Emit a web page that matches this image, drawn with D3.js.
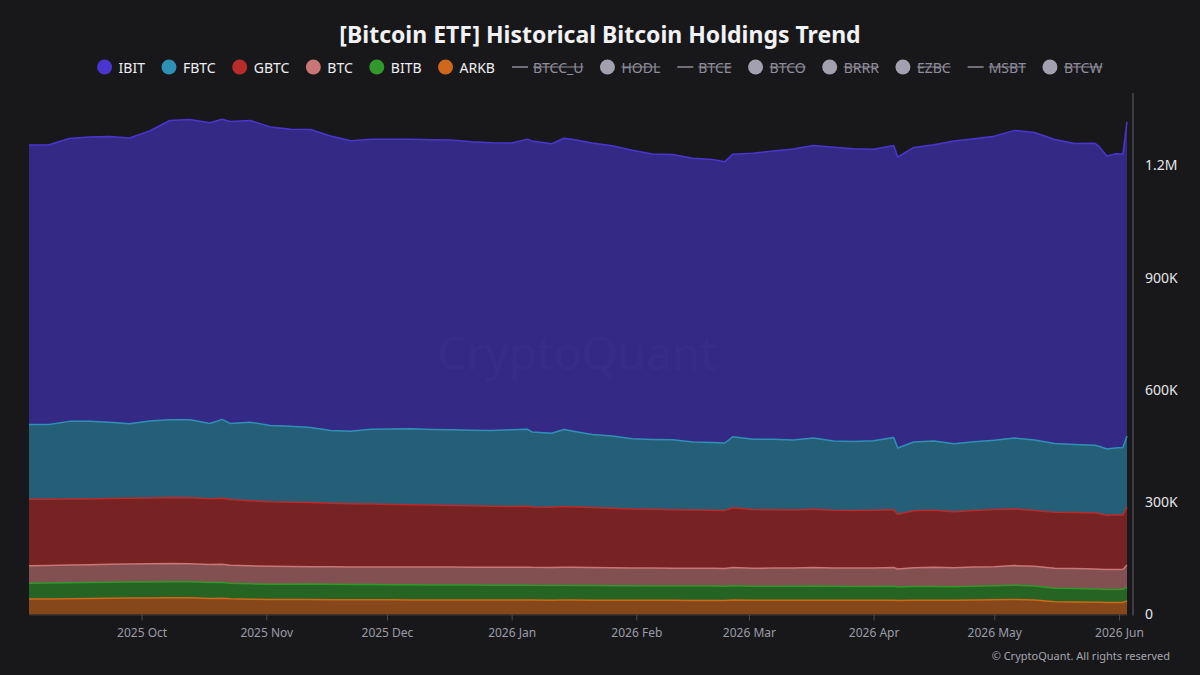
<!DOCTYPE html>
<html>
<head>
<meta charset="utf-8">
<script src="https://cdn.jsdelivr.net/npm/d3@7"></script>
<style>
  html, body { margin: 0; padding: 0; background: #18181b; }
  svg { display: block; font-family: "Noto Sans", "Open Sans", sans-serif; }
</style>
</head>
<body>
<script>
const width = 1200;
const height = 675;

// daily holdings (BTC)
const dates = [
  "2025-09-03", "2025-09-08", "2025-09-13", "2025-09-18", "2025-09-23", "2025-09-28",
  "2025-10-03", "2025-10-08", "2025-10-13", "2025-10-18", "2025-10-21", "2025-10-23",
  "2025-10-28", "2025-11-02", "2025-11-07", "2025-11-12", "2025-11-17", "2025-11-22",
  "2025-11-27", "2025-12-02", "2025-12-07", "2025-12-12", "2025-12-17", "2025-12-22",
  "2025-12-27", "2026-01-01", "2026-01-05", "2026-01-06", "2026-01-11", "2026-01-14",
  "2026-01-16", "2026-01-21", "2026-01-26", "2026-01-31", "2026-02-05", "2026-02-10",
  "2026-02-15", "2026-02-20", "2026-02-23", "2026-02-25", "2026-03-02", "2026-03-07",
  "2026-03-12", "2026-03-17", "2026-03-22", "2026-03-27", "2026-04-01", "2026-04-06",
  "2026-04-07", "2026-04-11", "2026-04-16", "2026-04-21", "2026-04-26", "2026-05-01",
  "2026-05-06", "2026-05-11", "2026-05-16", "2026-05-21", "2026-05-26", "2026-05-27",
  "2026-05-29", "2026-05-31", "2026-06-02", "2026-06-03"
];

const ibit = [
  746100, 747500, 755700, 759000, 763200, 763500, 774700, 799600, 802000, 803300, 801700, 806500,
  805700, 797900, 793900, 796100, 786700, 775800, 774700, 774200, 773400, 773900, 773600, 770400,
  768600, 766200, 775000, 777400, 773100, 777900, 779500, 778700, 775500, 770700, 762400, 762400,
  757900, 755700, 751500, 754900, 764000, 770400, 777100, 781400, 784300, 782200, 779000, 780000,
  777400, 786700, 791500, 808600, 809700, 812400, 821700, 821200, 812100, 804100, 806200, 801700,
  782700, 785900, 784100, 838800
];

const fbtc = [
  200100, 199600, 207300, 208100, 203800, 199000, 205400, 207800, 208400, 201200, 210500, 203600,
  210000, 203600, 202800, 200600, 194200, 193900, 199800, 201400, 202800, 201700, 202200, 202000,
  202500, 204900, 205700, 200400, 198000, 205700, 202500, 195300, 193100, 187500, 186700, 186500,
  181900, 180900, 180100, 189700, 187800, 188300, 187000, 190200, 185100, 183800, 185700, 193400,
  177100, 183800, 184900, 181400, 183500, 185100, 189700, 188600, 183800, 181700, 181100, 179500,
  177100, 179000, 180300, 190500
];

const gbtc = [
  177400, 176600, 176300, 175200, 175500, 175500, 176000, 176300, 176300, 175800, 176600, 175200,
  173600, 172300, 171500, 171200, 169900, 168800, 168000, 167200, 166200, 165900, 164800, 164000,
  163000, 162400, 162700, 161400, 160800, 162200, 161600, 160300, 158900, 157600, 156800, 156300,
  155700, 155200, 154900, 159800, 156500, 155700, 155200, 156000, 154400, 154100, 154100, 154100,
  146100, 152300, 152800, 149600, 150900, 152500, 151200, 149100, 149300, 149600, 149600, 148800,
  145100, 145300, 145100, 154100
];

const btcMini = [
  47000, 47300, 47600, 47800, 48100, 48400, 48400, 48400, 48100, 48100, 48400, 48100,
  48100, 47800, 47300, 46200, 46800, 46800, 47000, 47300, 47600, 47600, 47800, 47800,
  48100, 48100, 48400, 48100, 48100, 48600, 48400, 48100, 47800, 47600, 47800, 47600,
  47600, 47600, 47600, 48600, 48100, 48400, 48600, 49200, 48900, 48900, 49200, 50000,
  48100, 50000, 50800, 51000, 51600, 50800, 52400, 52600, 53200, 53400, 53400, 53200,
  52900, 53200, 53400, 59600
];

const bitb = [
  41900, 42200, 42500, 42700, 42700, 42700, 42700, 42700, 42700, 42200, 42200, 41700,
  41100, 40600, 40900, 41700, 41100, 40900, 40600, 40300, 40300, 40100, 40100, 39800,
  39500, 39500, 39500, 39300, 39300, 39300, 39300, 39000, 38700, 38700, 38500, 38200,
  38200, 38200, 37900, 38200, 37700, 37700, 37700, 37900, 37400, 37100, 37100, 37400,
  36300, 36900, 36900, 36300, 36900, 37700, 37900, 37400, 36100, 35800, 35300, 35300,
  35000, 35000, 35000, 36600
];

const arkb = [
  41400, 41700, 42200, 42700, 43300, 43800, 44300, 44900, 44600, 43000, 43500, 41900,
  40900, 40300, 40100, 39800, 39500, 39300, 39300, 39300, 39000, 39000, 38700, 38700,
  38700, 38500, 38500, 38500, 38200, 38500, 38500, 38200, 38200, 37900, 37900, 37900,
  37700, 37700, 37700, 38500, 37900, 37900, 37900, 38200, 37900, 37900, 37900, 38200,
  37100, 37900, 38200, 37900, 38500, 39300, 40300, 38700, 34200, 33400, 32900, 32600,
  32100, 32100, 32300, 36100
];

// stack order bottom -> top
const stackKeys = ["ARKB", "BITB", "BTC", "GBTC", "FBTC", "IBIT"];
const seriesValues = { IBIT: ibit, FBTC: fbtc, GBTC: gbtc, BTC: btcMini, BITB: bitb, ARKB: arkb };

const colors = {
  IBIT: "#4a36cf",
  FBTC: "#2f90b6",
  GBTC: "#b82c2c",
  BTC: "#c97676",
  BITB: "#31982b",
  ARKB: "#d0681b"
};

// legend: shown series then hidden (struck out) ones
const legendShown = ["IBIT", "FBTC", "GBTC", "BTC", "BITB", "ARKB"];
const legendHidden = ["BTCC_U", "HODL", "BTCE", "BTCO", "BRRR", "EZBC", "MSBT", "BTCW"];
const hiddenAsLine = ["BTCC_U", "BTCE", "MSBT"];

const yTicks = [0, 300000, 600000, 900000, 1200000];

const parse = d3.timeParse("%Y-%m-%d");
const rows = dates.map((d, i) => {
  const row = { date: parse(d) };
  stackKeys.forEach((k) => { row[k] = seriesValues[k][i]; });
  return row;
});

const svg = d3.select("body").append("svg")
  .attr("width", width)
  .attr("height", height)
  .attr("viewBox", `0 0 ${width} ${height}`);

svg.append("rect")
  .attr("width", width)
  .attr("height", height)
  .attr("fill", "#18181b");

const x = d3.scaleTime()
  .domain(d3.extent(rows, (d) => d.date))
  .range([29, 1127]);

const y = d3.scaleLinear()
  .domain([0, 1400000])
  .range([614.5, 90.4]);

const stacked = d3.stack().keys(stackKeys)(rows);

const area = d3.area()
  .x((d) => x(d.data.date))
  .y0((d) => y(d[0]))
  .y1((d) => y(d[1]));

const topLine = d3.line()
  .x((d) => x(d.data.date))
  .y((d) => y(d[1]));

// watermark
svg.append("text")
  .attr("x", 577)
  .attr("y", 352)
  .attr("text-anchor", "middle")
  .attr("dominant-baseline", "central")
  .attr("font-size", 46)
  .attr("fill", "#ffffff")
  .attr("fill-opacity", 0.05)
  .text("CryptoQuant");

const layers = svg.append("g");

layers.selectAll("path.area")
  .data(stacked)
  .enter()
  .append("path")
  .attr("class", "area")
  .attr("fill", (d) => colors[d.key])
  .attr("fill-opacity", 0.6)
  .attr("d", area);

layers.selectAll("path.top")
  .data(stacked)
  .enter()
  .append("path")
  .attr("class", "top")
  .attr("fill", "none")
  .attr("stroke", (d) => colors[d.key])
  .attr("stroke-width", 1.5)
  .attr("stroke-linejoin", "round")
  .attr("d", topLine);

// x axis
const xAxis = svg.append("g")
  .attr("transform", `translate(0, ${y(0)})`)
  .call(d3.axisBottom(x)
    .ticks(d3.timeMonth.every(1))
    .tickFormat(d3.timeFormat("%Y %b"))
    .tickSizeInner(6)
    .tickSizeOuter(0)
    .tickPadding(8));
xAxis.select(".domain").attr("stroke", "#3a3a40");
xAxis.selectAll(".tick line").attr("stroke", "#4c4c54");
xAxis.selectAll(".tick text")
  .attr("fill", "#9c9ca6")
  .attr("font-size", 12)
  .attr("font-family", "\"Noto Sans\", sans-serif");

// y axis on the right
const yAxis = svg.append("g")
  .attr("transform", "translate(1133, 0)")
  .call(d3.axisRight(y)
    .tickValues(yTicks)
    .tickFormat((d) => d === 0 ? "0" : d >= 1e6 ? `${d / 1e6}M` : `${d / 1e3}K`)
    .tickSize(0)
    .tickPadding(12));
yAxis.select(".domain")
  .attr("stroke", "#4a4a52")
  .attr("stroke-width", 1.5)
  .attr("d", `M0,${y(0) + 1}V93`);
yAxis.selectAll(".tick text")
  .attr("fill", "#e6e6ea")
  .attr("font-size", 14)
  .attr("font-family", "\"Noto Sans\", sans-serif");

// title
svg.append("text")
  .attr("x", 600)
  .attr("y", 43)
  .attr("text-anchor", "middle")
  .attr("font-size", 23)
  .attr("font-weight", 700)
  .attr("fill", "#f2f2f4")
  .text("[Bitcoin ETF] Historical Bitcoin Holdings Trend");

// legend
const legendY = 67;
const itemGap = 17;
const legend = svg.append("g");
const items = legendShown.map((k) => ({ name: k, hidden: false, line: false }))
  .concat(legendHidden.map((k) => ({ name: k, hidden: true, line: hiddenAsLine.includes(k) })));

let cursor = 0;
items.forEach((it) => {
  const g = legend.append("g");
  const symW = it.line ? 16 : 14;
  if (it.line) {
    g.append("line")
      .attr("x1", cursor).attr("x2", cursor + symW)
      .attr("y1", legendY).attr("y2", legendY)
      .attr("stroke", "#8e8c9a")
      .attr("stroke-width", 1.5);
  } else {
    g.append("circle")
      .attr("cx", cursor + 7)
      .attr("cy", legendY)
      .attr("r", 7.5)
      .attr("fill", it.hidden ? "#a3a1b0" : colors[it.name]);
  }
  const tx = cursor + symW + (it.line ? 5 : 7);
  const t = g.append("text")
    .attr("x", tx)
    .attr("y", legendY)
    .attr("dominant-baseline", "central")
    .attr("font-size", 14)
    .attr("fill", it.hidden ? "#8f8d9c" : "#eeeef2")
    .text(it.name);
  const tw = t.node().getComputedTextLength();
  if (it.hidden) {
    g.append("line")
      .attr("x1", tx).attr("x2", tx + tw)
      .attr("y1", legendY).attr("y2", legendY)
      .attr("stroke", "#8f8d9c")
      .attr("stroke-width", 1.2);
  }
  cursor = tx + tw + itemGap;
});
const legendW = cursor - itemGap;
legend.attr("transform", `translate(${600 - legendW / 2}, 0)`);

// copyright
svg.append("text")
  .attr("x", 1170)
  .attr("y", 655)
  .attr("text-anchor", "end")
  .attr("dominant-baseline", "central")
  .attr("font-size", 11)
  .attr("fill", "#a6a6ae")
  .text("\u00A9 CryptoQuant. All rights reserved");
</script>
</body>
</html>
